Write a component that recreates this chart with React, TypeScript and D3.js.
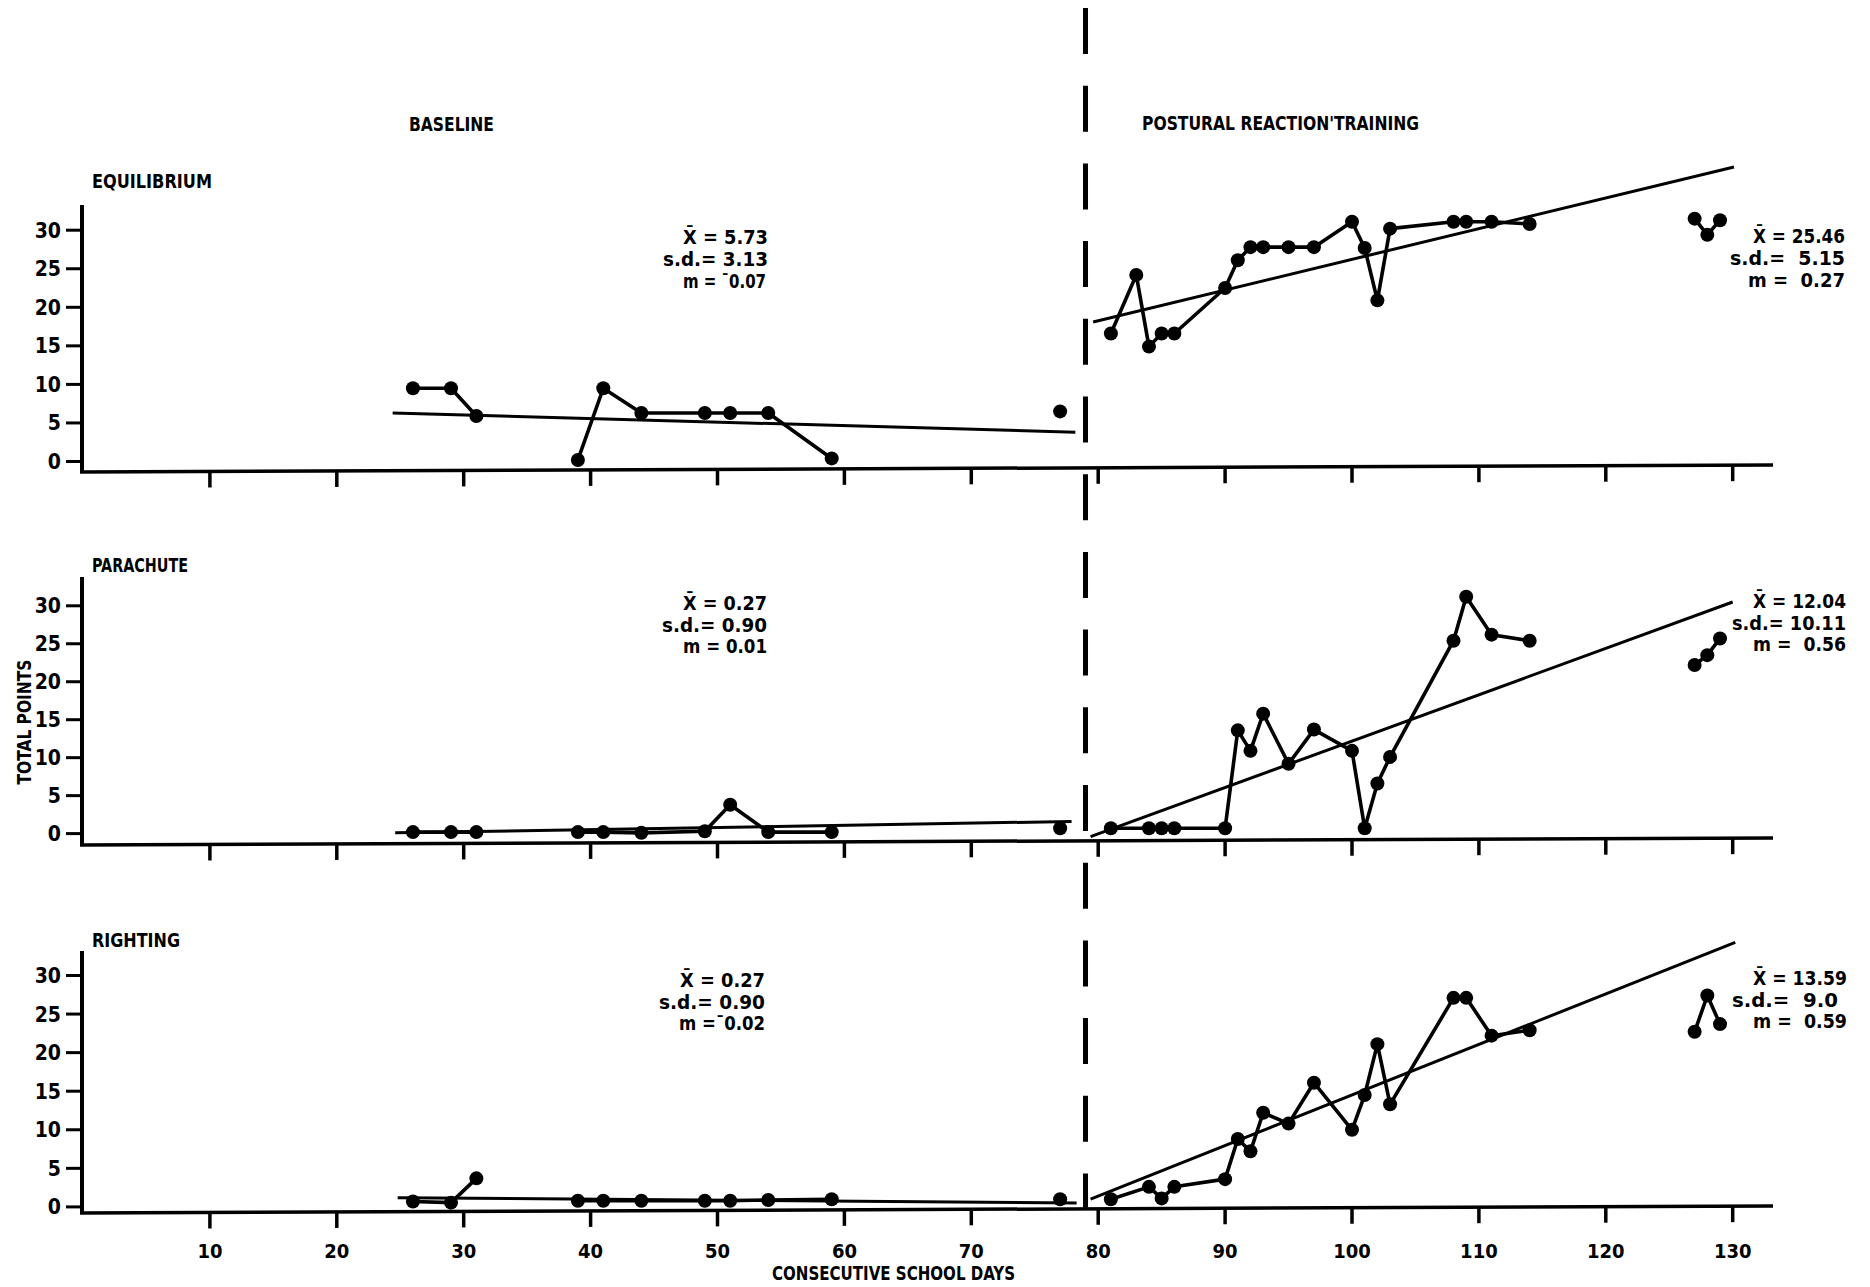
import React from "react";
import * as d3 from "d3";

const W = 1870;
const H = 1287;

// ---------- DATA ----------
const xTicks = [10, 20, 30, 40, 50, 60, 70, 80, 90, 100, 110, 120, 130];
const yTicks = [0, 5, 10, 15, 20, 25, 30];

const panelTitles = ["EQUILIBRIUM", "PARACHUTE", "RIGHTING"];
const phaseLabels = ["BASELINE", "POSTURAL REACTION'TRAINING"];
const yAxisTitle = "TOTAL POINTS";
const xAxisTitle = "CONSECUTIVE SCHOOL DAYS";
const phaseChangeDay = 79.0;

const equilibriumDays = [26, 29, 31, 39, 41, 44, 49, 51, 54, 59, 77,
  81, 83, 84, 85, 86, 90, 91, 92, 93, 95, 97, 100, 101, 102, 103, 108, 109, 111, 114,
  127, 128, 129];
const equilibriumValues = [9.5, 9.5, 5.9, 0.2, 9.5, 6.3, 6.3, 6.3, 6.3, 0.4, 6.5,
  16.6, 24.2, 14.9, 16.6, 16.6, 22.5, 26.1, 27.8, 27.8, 27.8, 27.8, 31.1, 27.7, 20.9, 30.2, 31.1, 31.1, 31.1, 30.8,
  31.5, 29.4, 31.3];
const equilibriumGroups = [0, 0, 0, 1, 1, 1, 1, 1, 1, 1, 2,
  3, 3, 3, 3, 3, 3, 3, 3, 3, 3, 3, 3, 3, 3, 3, 3, 3, 3, 3,
  4, 4, 4];

const parachuteDays = [26, 29, 31, 39, 41, 44, 49, 51, 54, 59, 77,
  81, 84, 85, 86, 90, 91, 92, 93, 95, 97, 100, 101, 102, 103, 108, 109, 111, 114,
  127, 128, 129];
const parachuteValues = [0.2, 0.2, 0.2, 0.2, 0.2, 0.1, 0.3, 3.8, 0.2, 0.2, 0.7,
  0.7, 0.7, 0.7, 0.7, 0.7, 13.6, 10.9, 15.8, 9.2, 13.7, 10.9, 0.7, 6.6, 10.1, 25.4, 31.2, 26.2, 25.4,
  22.2, 23.5, 25.7];
const parachuteGroups = [0, 0, 0, 1, 1, 1, 1, 1, 1, 1, 2,
  3, 3, 3, 3, 3, 3, 3, 3, 3, 3, 3, 3, 3, 3, 3, 3, 3, 3,
  4, 4, 4];

const rightingDays = [26, 29, 31, 39, 41, 44, 49, 51, 54, 59, 77,
  81, 84, 85, 86, 90, 91, 92, 93, 95, 97, 100, 101, 102, 103, 108, 109, 111, 114,
  127, 128, 129];
const rightingValues = [0.7, 0.55, 3.7, 0.8, 0.8, 0.8, 0.8, 0.8, 0.9, 1.0, 1.0,
  1.0, 2.6, 1.1, 2.6, 3.6, 8.8, 7.2, 12.2, 10.8, 16.1, 10.0, 14.5, 21.1, 13.3, 27.1, 27.1, 22.2, 22.9,
  22.7, 27.4, 23.7];
const rightingGroups = [0, 0, 0, 1, 1, 1, 1, 1, 1, 1, 2,
  3, 3, 3, 3, 3, 3, 3, 3, 3, 3, 3, 3, 3, 3, 3, 3, 3, 3,
  4, 4, 4];

// trend lines: [startDay, startValue, endDay, endValue]
const equilibriumTrends = [[24.4, 6.3, 78.2, 3.8], [79.6, 18.1, 130.1, 38.2]];
const parachuteTrends = [[24.6, 0.1, 77.9, 1.6], [79.4, -0.4, 130.0, 30.5]];
const rightingTrends = [[24.8, 1.2, 78.3, 0.5], [79.4, 1.0, 130.2, 34.3]];

const equilibriumStats = [["X\u0304 = 5.73", "s.d.= 3.13", "m = \u00AF0.07"], ["X\u0304 = 25.46", "s.d.=  5.15", "m =  0.27"]];
const parachuteStats = [["X\u0304 = 0.27", "s.d.= 0.90", "m = 0.01"], ["X\u0304 = 12.04", "s.d.= 10.11", "m =  0.56"]];
const rightingStats = [["X\u0304 = 0.27", "s.d.= 0.90", "m =\u00AF0.02"], ["X\u0304 = 13.59", "s.d.=  9.0", "m =  0.59"]];

// ---------- LAYOUT ----------
const FONT = "'Liberation Sans Narrow','DejaVu Sans Condensed','Arial Narrow',sans-serif";
const AXIS_X = 82;
const AXIS_RIGHT = 1773;
const TILT = 7;

const x = d3.scaleLinear().domain([0, 130]).range([83, 83 + 130 * 12.69]);

const panelLayout = [
  { y0: 461.5, y30: 230.2, axisY: 472, yTop: 205, titleY: 188,
    statsBase: [[244, 266, 288], [243, 265, 287]],
    statsRight: [[768, 768, 766], [1845, 1845, 1845]],
    statsW: [[85, 105, 83], [92, 115, 97]], titleW: 120 },
  { y0: 833.6, y30: 605.8, axisY: 845, yTop: 577, titleY: 572,
    statsBase: [[610, 632, 653], [608, 630, 651]],
    statsRight: [[767, 767, 767], [1846, 1846, 1846]],
    statsW: [[84, 105, 84], [93, 114, 93]], titleW: 96 },
  { y0: 1206.9, y30: 975.5, axisY: 1213, yTop: 951, titleY: 947,
    statsBase: [[987, 1009, 1030], [985, 1007, 1028]],
    statsRight: [[765, 765, 765], [1847, 1838, 1847]],
    statsW: [[85, 106, 86], [94, 106, 94]], titleW: 88 },
];

function tiltAt(px: number) {
  return -TILT * (px - AXIS_X) / (AXIS_RIGHT - AXIS_X);
}

function Panel({ idx, title, days, values, groups, trends, stats }: any) {
  const L = panelLayout[idx];
  const y = d3.scaleLinear().domain([0, 30]).range([L.y0, L.y30]);
  const pts = days.map((d: number, i: number) => ({ d, v: values[i], g: groups[i] }));
  const grouped = d3.groups(pts, (p: any) => p.g);
  const line = d3.line<any>().x((p) => x(p.d)).y((p) => y(p.v));
  const axisYLeft = L.axisY;
  return (
    <g>
      <text x={92} y={L.titleY} fontSize={20} fontWeight="bold" textLength={L.titleW}
        lengthAdjust="spacingAndGlyphs">{title}</text>
      <line x1={AXIS_X} x2={AXIS_X} y1={L.yTop} y2={axisYLeft + 1} stroke="#000" strokeWidth={4} />
      {yTicks.map((t) => (
        <g key={t}>
          <line x1={66} x2={AXIS_X} y1={y(t)} y2={y(t)} stroke="#000" strokeWidth={3} />
          <text x={61} y={y(t) + 7.5} fontSize={21} fontWeight="bold" textAnchor="end">{t}</text>
        </g>
      ))}
      <line x1={AXIS_X - 2} x2={AXIS_RIGHT} y1={axisYLeft} y2={axisYLeft + tiltAt(AXIS_RIGHT)}
        stroke="#000" strokeWidth={3.5} />
      {xTicks.map((t) => {
        const px = x(t);
        const ay = axisYLeft + tiltAt(px);
        return <line key={t} x1={px} x2={px} y1={ay} y2={ay + 16} stroke="#000" strokeWidth={3.5} />;
      })}
      {trends.map((tr: number[], i: number) => (
        <line key={"tr" + i} x1={x(tr[0])} y1={y(tr[1])} x2={x(tr[2])} y2={y(tr[3])}
          stroke="#000" strokeWidth={3} />
      ))}
      {grouped.map(([g, arr]: any) => (
        arr.length > 1 ? <path key={"l" + g} d={line(arr) || ""} fill="none" stroke="#000"
          strokeWidth={3.6} strokeLinejoin="round" /> : null
      ))}
      {pts.map((p: any, i: number) => (
        <circle key={"c" + i} cx={x(p.d)} cy={y(p.v)} r={7} fill="#000" />
      ))}
      {stats.map((lines: string[], s: number) => lines.map((txt: string, k: number) => (
        <text key={"s" + s + k} x={L.statsRight[s][k]} y={L.statsBase[s][k]} fontSize={20}
          fontWeight="bold" textAnchor="end" textLength={L.statsW[s][k]}
          lengthAdjust="spacingAndGlyphs" style={{ whiteSpace: "pre" }}>{txt}</text>
      )))}
    </g>
  );
}

export default function App() {
  const panels = [
    { title: panelTitles[0], days: equilibriumDays, values: equilibriumValues, groups: equilibriumGroups, trends: equilibriumTrends, stats: equilibriumStats },
    { title: panelTitles[1], days: parachuteDays, values: parachuteValues, groups: parachuteGroups, trends: parachuteTrends, stats: parachuteStats },
    { title: panelTitles[2], days: rightingDays, values: rightingValues, groups: rightingGroups, trends: rightingTrends, stats: rightingStats },
  ];
  return (
    <svg width={W} height={H} style={{ position: "absolute", left: 0, top: 0, background: "#fff" }}
      fontFamily={FONT} fill="#000">
      <rect x={0} y={0} width={W} height={H} fill="#fff" />
      <text x={409} y={131} fontSize={20} fontWeight="bold" textLength={85} lengthAdjust="spacingAndGlyphs">{phaseLabels[0]}</text>
      <text x={1142} y={130} fontSize={20} fontWeight="bold" textLength={277} lengthAdjust="spacingAndGlyphs">{phaseLabels[1]}</text>
      <line x1={x(phaseChangeDay)} x2={x(phaseChangeDay)} y1={8} y2={1210} stroke="#000" strokeWidth={5}
        strokeDasharray="46 31.7" />
      {panels.map((p, i) => <Panel key={i} idx={i} {...p} />)}
      {xTicks.map((t) => (
        <text key={t} x={x(t)} y={1258} fontSize={20} fontWeight="bold" textAnchor="middle">{t}</text>
      ))}
      <text x={772} y={1280} fontSize={20} fontWeight="bold" textLength={243} lengthAdjust="spacingAndGlyphs">{xAxisTitle}</text>
      <text transform="translate(31,722) rotate(-90)" x={0} y={0} fontSize={19} fontWeight="bold" textAnchor="middle"
        textLength={125} lengthAdjust="spacingAndGlyphs">{yAxisTitle}</text>
    </svg>
  );
}
